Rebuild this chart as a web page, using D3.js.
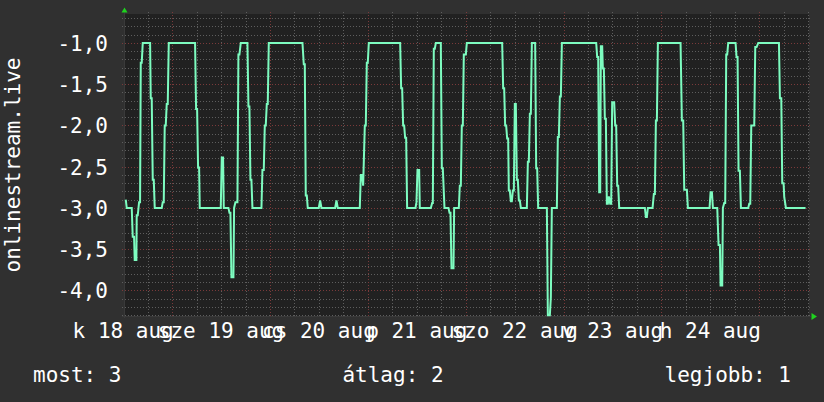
<!DOCTYPE html>
<html><head><meta charset="utf-8">
<script src="https://cdn.jsdelivr.net/npm/d3@7"></script>
<style>html,body{margin:0;padding:0;background:#303030;}svg{display:block;}</style>
</head><body>
<script>
// ---- data (hours since 18 Aug 00:00, value) ----
const seriesName = "onlinestream.live";
const times = [
 12.63,12.87,14.10,14.34,14.67,14.83,15.24,15.32,15.57,15.90,16.14,16.31,16.55,16.80,18.60,18.76,19.00,19.25,19.50,19.74,
 21.46,21.70,21.95,22.19,22.44,22.68,22.93,23.18,29.63,29.88,30.13,30.37,30.62,30.78,35.93,36.18,36.50,36.67,37.81,38.06,
 38.30,38.55,39.04,39.20,39.53,40.02,40.26,40.51,40.84,42.47,42.72,42.96,43.21,43.45,43.70,45.91,46.15,46.48,46.73,46.97,
 47.22,47.46,47.71,55.97,56.29,56.54,56.78,57.03,57.27,59.97,60.30,60.63,63.98,64.31,64.63,70.03,70.28,70.60,70.85,71.26,
 71.50,71.75,71.99,72.24,79.93,80.17,80.42,80.66,80.91,81.15,81.40,81.64,83.69,83.93,84.18,84.59,84.75,87.45,87.78,87.94,
 88.18,88.43,88.68,89.90,90.15,90.39,90.80,91.78,92.03,92.27,92.52,93.01,93.17,94.32,94.56,94.81,95.05,95.30,95.54,96.04,
 96.28,104.95,105.19,105.44,105.68,105.93,106.17,106.42,106.58,106.83,107.07,107.32,107.56,107.81,108.05,108.30,108.55,108.79,109.04,109.28,
 109.53,111.00,111.25,111.49,111.74,111.98,112.23,113.04,113.29,113.53,113.78,115.91,116.15,116.64,116.89,117.13,118.36,118.60,118.85,119.10,
 119.34,119.59,128.01,128.25,128.50,128.74,128.99,129.15,129.48,129.64,129.89,130.13,130.38,130.62,130.87,131.11,131.44,131.69,131.93,132.42,
 132.67,132.91,133.16,133.40,133.65,139.95,140.19,140.44,140.68,141.83,142.15,142.40,142.65,142.89,143.14,148.70,149.02,149.35,149.60,150.25,
 150.50,155.81,156.06,156.39,156.63,157.70,158.02,158.35,158.51,158.92,159.08,159.41,159.65,159.90,160.14,160.39,162.19,162.43,162.68,162.92,
 163.25,163.50,165.30,165.54,165.79,166.04,166.77,167.02,167.35,167.76,172.83,173.07,173.40,173.64,173.97,174.13,174.54,179.36
];
const values = [
 -2.90,-3.00,-3.00,-3.35,-3.35,-3.63,-3.63,-3.09,-3.09,-2.93,-2.93,-1.24,-1.24,-1.00,-1.00,-1.67,-1.67,-2.66,-2.66,-3.00,
 -3.00,-2.93,-2.93,-2.00,-2.00,-1.74,-1.74,-1.00,-1.00,-1.80,-1.80,-2.51,-2.51,-3.00,-3.00,-2.39,-2.39,-3.00,-3.00,-3.06,
 -3.06,-3.84,-3.84,-3.00,-2.93,-2.93,-1.14,-1.14,-1.00,-1.00,-1.77,-1.77,-2.66,-2.66,-3.00,-3.00,-2.54,-2.54,-2.00,-2.00,
 -1.74,-1.74,-1.00,-1.00,-1.26,-1.26,-2.85,-2.85,-3.00,-3.00,-2.91,-3.00,-3.00,-2.91,-3.00,-3.00,-2.60,-2.60,-2.73,-2.00,
 -2.00,-1.24,-1.24,-1.00,-1.00,-1.55,-1.55,-2.00,-2.00,-2.15,-2.15,-3.00,-3.00,-2.93,-2.54,-2.54,-3.00,-3.00,-2.94,-2.94,
 -1.07,-1.07,-1.00,-1.00,-2.52,-2.52,-3.00,-3.00,-3.06,-3.06,-3.73,-3.73,-3.00,-3.00,-2.73,-2.73,-2.00,-2.00,-1.14,-1.14,
 -1.00,-1.00,-1.55,-1.55,-2.00,-2.00,-2.16,-2.16,-2.79,-2.79,-2.92,-2.92,-2.79,-2.79,-1.74,-1.74,-2.66,-2.66,-2.91,-2.91,
 -3.00,-3.00,-2.44,-2.44,-1.86,-1.86,-1.00,-1.00,-2.52,-2.52,-3.00,-3.00,-4.30,-4.30,-4.08,-3.00,-3.00,-2.14,-2.14,-1.65,
 -1.65,-1.00,-1.00,-1.17,-1.17,-2.81,-2.81,-1.04,-1.04,-1.31,-1.31,-1.92,-1.92,-2.95,-2.95,-2.86,-2.95,-2.95,-1.72,-1.72,
 -2.00,-2.00,-2.73,-2.73,-3.00,-3.00,-3.11,-3.11,-3.00,-3.00,-2.83,-2.83,-1.94,-1.94,-1.00,-1.00,-1.94,-1.94,-2.78,-2.78,
 -3.00,-3.00,-2.81,-2.81,-3.00,-3.00,-3.45,-3.45,-3.94,-3.94,-3.00,-2.94,-2.94,-1.14,-1.14,-1.00,-1.00,-1.17,-1.17,-2.55,
 -2.55,-3.00,-3.00,-2.95,-2.95,-2.00,-2.00,-1.05,-1.05,-1.00,-1.00,-1.67,-1.67,-2.70,-2.70,-2.87,-3.00,-3.00
];
const dayLabels = ["k 18 aug","sze 19 aug","cs 20 aug","p 21 aug","szo 22 aug","v 23 aug","h 24 aug"];
const dayLabelHours = [12,36,60,84,108,132,156];
const yTickValues = [-1.0,-1.5,-2.0,-2.5,-3.0,-3.5,-4.0];
const legendLabels = ["most: 3","átlag: 2","legjobb: 1"];
const timeRange = [12.2, 180.2];
const valueRange = [-4.31, -0.65];

// ---- layout ----
const W = 824, H = 402;
const P = {left:124, right:809, top:14, bottom:316};
const FONT = "'DejaVu Sans Mono', monospace";

const svg = d3.select("body").append("svg").attr("width", W).attr("height", H);
svg.append("rect").attr("width", W).attr("height", H).attr("fill", "#303030");
svg.append("rect").attr("x", P.left).attr("y", P.top)
  .attr("width", P.right - P.left).attr("height", P.bottom - P.top).attr("fill", "#212121");

const x = d3.scaleLinear().domain(timeRange).range([P.left, P.right]);
const y = d3.scaleLinear().domain(valueRange).range([P.bottom, P.top]);

const minorX = d3.range(Math.ceil(timeRange[0]/6)*6, timeRange[1], 6).filter(h => h % 24 !== 0);
const majorX = d3.range(Math.ceil(timeRange[0]/24)*24, timeRange[1], 24);
const minorY = d3.range(-43, -6).map(v => v/10).filter(v => Math.round(v*10) % 5 !== 0);
const majorY = d3.range(-8, -1).map(v => v/2);

const g = svg.append("g").attr("shape-rendering", "crispEdges");
function vlines(arr, col) {
  g.selectAll(null).data(arr).enter().append("line")
    .attr("x1", d => Math.round(x(d)) + 0.5).attr("x2", d => Math.round(x(d)) + 0.5)
    .attr("y1", P.top - 2).attr("y2", P.bottom + 2)
    .attr("stroke", col).attr("stroke-dasharray", "1,2");
}
function hlines(arr, col) {
  g.selectAll(null).data(arr).enter().append("line")
    .attr("x1", P.left - 2).attr("x2", P.right + 2)
    .attr("y1", d => Math.round(y(d)) + 0.5).attr("y2", d => Math.round(y(d)) + 0.5)
    .attr("stroke", col).attr("stroke-dasharray", "1,2");
}
hlines(minorY, "#5e5e5e");
vlines(minorX, "#5e5e5e");
hlines(majorY, "#7a3a3a");
vlines(majorX, "#7a3a3a");

// axes lines
g.append("line").attr("x1", P.left + 0.5).attr("x2", P.left + 0.5).attr("y1", P.top - 2).attr("y2", P.bottom + 2).attr("stroke", "#3a3a3a");
g.append("line").attr("x1", P.left - 2).attr("x2", P.right + 2).attr("y1", P.bottom + 0.5).attr("y2", P.bottom + 0.5).attr("stroke", "#3a3a3a");

// series line
const pts = times.map((t, i) => [t, values[i]]);
svg.append("path").datum(pts)
  .attr("d", d3.line().x(d => x(d[0])).y(d => y(d[1])))
  .attr("fill", "none").attr("stroke", "#7dfcc0").attr("stroke-width", 2)
  .attr("stroke-linejoin", "miter");

// arrows
svg.append("path").attr("d", `M${P.left - 2.5},${P.top - 1.5} L${P.left + 3.5},${P.top - 1.5} L${P.left + 0.5},${P.top - 6.5} Z`).attr("fill", "#1fd21f");
svg.append("path").attr("d", `M${P.right + 2.5},${P.bottom - 3} L${P.right + 2.5},${P.bottom + 4} L${P.right + 8},${P.bottom + 0.5} Z`).attr("fill", "#1fd21f");

// y tick labels
const fmt = v => d3.format(".1f")(v).replace(".", ",").replace("−", "-");
svg.selectAll(null).data(yTickValues).enter().append("text")
  .attr("x", 108).attr("y", d => y(d) + 8)
  .attr("text-anchor", "end").attr("fill", "#ffffff")
  .attr("font-family", FONT).attr("font-size", 21)
  .text(fmt);

// x labels (overlapping, as in the original rrdtool output)
svg.selectAll(null).data(dayLabels).enter().append("text")
  .attr("x", (d, i) => x(dayLabelHours[i])).attr("y", 338)
  .attr("text-anchor", "middle").attr("fill", "#ffffff")
  .attr("font-family", FONT).attr("font-size", 21)
  .text(d => d);

// y axis title
svg.append("text")
  .attr("transform", `translate(20,${(P.top + P.bottom) / 2}) rotate(-90)`)
  .attr("text-anchor", "middle").attr("fill", "#ffffff")
  .attr("font-family", FONT).attr("font-size", 21)
  .text(seriesName);

// legend
const legendX = [33, 393, 791];
const legendAnchor = ["start", "middle", "end"];
svg.selectAll(null).data(legendLabels).enter().append("text")
  .attr("x", (d, i) => legendX[i]).attr("y", 382)
  .attr("text-anchor", (d, i) => legendAnchor[i]).attr("fill", "#ffffff")
  .attr("font-family", FONT).attr("font-size", 21)
  .text(d => d);
</script>
</body></html>
